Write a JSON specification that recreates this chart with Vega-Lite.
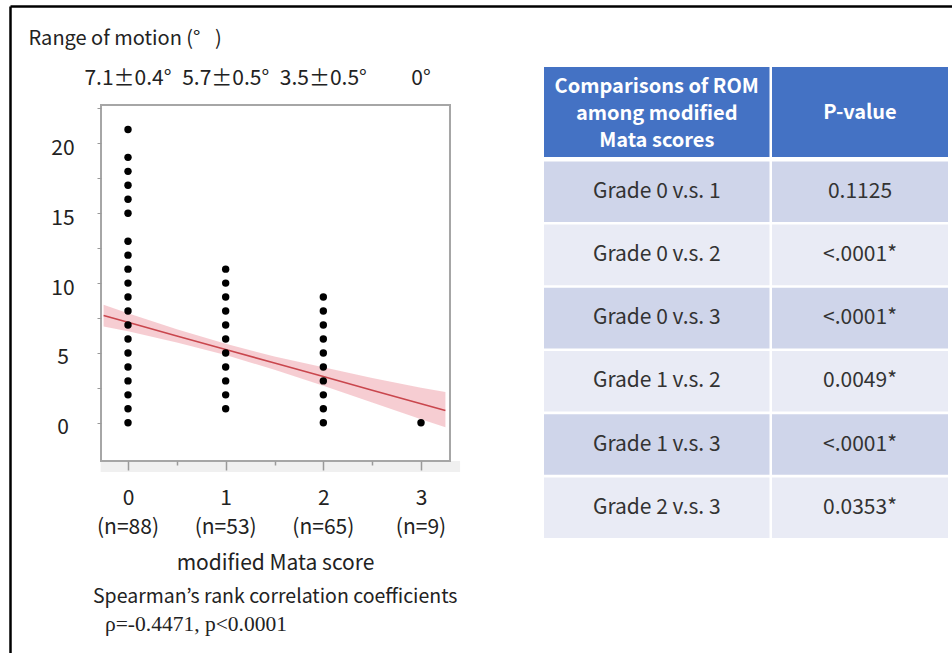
{
  "$schema": "https://vega.github.io/schema/vega-lite/v6.json",
  "width": 942,
  "height": 647,
  "autosize": "none",
  "padding": {"left": 10, "top": 6, "right": 0, "bottom": 0},
  "background": "white",
  "config": {
    "view": {"stroke": null},
    "font": "Noto Sans CJK JP",
    "axis": {"grid": false},
    "text": {"font": "Noto Sans CJK JP", "color": "#222"}
  },
  "datasets": {
    "points": [
      {"score": 0, "rom": 0}, {"score": 0, "rom": 1}, {"score": 0, "rom": 2}, {"score": 0, "rom": 3},
      {"score": 0, "rom": 4}, {"score": 0, "rom": 5}, {"score": 0, "rom": 6}, {"score": 0, "rom": 7},
      {"score": 0, "rom": 8}, {"score": 0, "rom": 9}, {"score": 0, "rom": 10}, {"score": 0, "rom": 11},
      {"score": 0, "rom": 12}, {"score": 0, "rom": 13}, {"score": 0, "rom": 15}, {"score": 0, "rom": 16},
      {"score": 0, "rom": 17}, {"score": 0, "rom": 18}, {"score": 0, "rom": 19}, {"score": 0, "rom": 21},
      {"score": 1, "rom": 1}, {"score": 1, "rom": 2}, {"score": 1, "rom": 3}, {"score": 1, "rom": 4},
      {"score": 1, "rom": 5}, {"score": 1, "rom": 6}, {"score": 1, "rom": 7}, {"score": 1, "rom": 8},
      {"score": 1, "rom": 9}, {"score": 1, "rom": 10}, {"score": 1, "rom": 11},
      {"score": 2, "rom": 0}, {"score": 2, "rom": 1}, {"score": 2, "rom": 2}, {"score": 2, "rom": 3},
      {"score": 2, "rom": 4}, {"score": 2, "rom": 5}, {"score": 2, "rom": 6}, {"score": 2, "rom": 7},
      {"score": 2, "rom": 8}, {"score": 2, "rom": 9},
      {"score": 3, "rom": 0}
    ],
    "band": [
      {"score": -0.25, "lo": 6.9, "hi": 8.45, "fit": 7.68},
      {"score": 0, "lo": 6.55, "hi": 7.85, "fit": 7.2},
      {"score": 0.5, "lo": 5.75, "hi": 6.7, "fit": 6.22},
      {"score": 1, "lo": 4.85, "hi": 5.65, "fit": 5.25},
      {"score": 1.5, "lo": 3.8, "hi": 4.75, "fit": 4.28},
      {"score": 2, "lo": 2.65, "hi": 3.97, "fit": 3.31},
      {"score": 2.5, "lo": 1.45, "hi": 3.2, "fit": 2.33},
      {"score": 3, "lo": 0.25, "hi": 2.5, "fit": 1.36},
      {"score": 3.25, "lo": -0.32, "hi": 2.2, "fit": 0.88}
    ],
    "groups": [
      {"score": 0, "n": "(n=88)", "mean": "7.1±0.4°"},
      {"score": 1, "n": "(n=53)", "mean": "5.7±0.5°"},
      {"score": 2, "n": "(n=65)", "mean": "3.5±0.5°"},
      {"score": 3, "n": "(n=9)", "mean": "0°"}
    ],
    "table": [
      {"row": 1, "comparison": "Grade 0 v.s. 1", "p": "0.1125"},
      {"row": 2, "comparison": "Grade 0 v.s. 2", "p": "<.0001*"},
      {"row": 3, "comparison": "Grade 0 v.s. 3", "p": "<.0001*"},
      {"row": 4, "comparison": "Grade 1 v.s. 2", "p": "0.0049*"},
      {"row": 5, "comparison": "Grade 1 v.s. 3", "p": "<.0001*"},
      {"row": 6, "comparison": "Grade 2 v.s. 3", "p": "0.0353*"}
    ]
  },
  "layer": [
    {
      "layer": [
        {
          "data": {"values": [{}]},
          "mark": {"type": "rect", "fill": "#f0f0f0", "stroke": null},
          "encoding": {
            "x": {"datum": -0.28, "type": "quantitative"},
            "x2": {"datum": 3.4},
            "y": {"datum": -2.734, "type": "quantitative"},
            "y2": {"datum": -3.52}
          }
        },
        {
          "data": {"values": [{}]},
          "mark": {"type": "rect", "fill": null, "stroke": "#a6a6a6", "strokeWidth": 2},
          "encoding": {
            "x": {"datum": -0.2764, "type": "quantitative"},
            "x2": {"datum": 3.2968},
            "y": {"datum": 22.75, "type": "quantitative"},
            "y2": {"datum": -2.734}
          }
        },
        {
          "data": {"name": "band"},
          "mark": {"type": "area", "color": "#f5c4ca", "opacity": 0.85},
          "encoding": {
            "x": {"field": "score", "type": "quantitative"},
            "y": {"field": "lo", "type": "quantitative"},
            "y2": {"field": "hi"}
          }
        },
        {
          "data": {"name": "band"},
          "mark": {"type": "line", "color": "#c9464d", "strokeWidth": 1.6},
          "encoding": {
            "x": {"field": "score", "type": "quantitative"},
            "y": {"field": "fit", "type": "quantitative"}
          }
        },
        {
          "data": {"name": "points"},
          "mark": {"type": "circle", "size": 55, "color": "black", "opacity": 1},
          "encoding": {
            "x": {
              "field": "score",
              "type": "quantitative",
              "scale": {"domain": [-1.20819, 8.43683], "nice": false, "zero": false},
              "axis": {
                "orient": "bottom",
                "offset": -192,
                "zindex": 2,
                "values": [0, 0.5, 1, 1.5, 2, 2.5, 3],
                "domain": false,
                "tickColor": "#9a9a9a",
                "tickWidth": 1.5,
                "tickSize": {"condition": {"test": "datum.value % 1 != 0", "value": 4}, "value": 9},
                "labelExpr": "datum.value % 1 == 0 ? format(datum.value, 'd') : ''",
                "labelFontSize": 21,
                "labelColor": "#222",
                "labelPadding": 17,
                "labelFlush": false,
                "labelOverlap": false,
                "title": "modified Mata score",
                "titleFontSize": 21,
                "titleFontWeight": "normal",
                "titleColor": "#222",
                "titleX": 265,
                "titleY": 102,
                "titleAlign": "center",
                "titleBaseline": "middle"
              }
            },
            "y": {
              "field": "rom",
              "type": "quantitative",
              "scale": {"domain": [-16.478, 29.835], "nice": false, "zero": false},
              "axis": {
                "orient": "left",
                "offset": -91,
                "zindex": 2,
                "values": [0, 2.5, 5, 7.5, 10, 12.5, 15, 17.5, 20, 22.5],
                "domain": false,
                "tickColor": "#9a9a9a",
                "tickSize": 4,
                "labelExpr": "datum.value % 5 == 0 ? datum.label : ''",
                "labelAlign": "center",
                "labelBaseline": "middle",
                "labelPadding": 34.5,
                "labelOffset": 5,
                "labelFontSize": 21,
                "labelColor": "#222",
                "labelOverlap": false,
                "title": "Range of motion (° \u2002)",
                "titleAngle": 0,
                "titleAlign": "left",
                "titleBaseline": "alphabetic",
                "titleX": -73,
                "titleY": 38,
                "titleFontSize": 20,
                "titleFontWeight": "normal",
                "titleColor": "#222"
              }
            }
          }
        },
        {
          "data": {"name": "groups"},
          "mark": {"type": "text", "fontSize": 21, "baseline": "middle", "align": "center"},
          "encoding": {
            "x": {"field": "score", "type": "quantitative"},
            "y": {"datum": 24.6, "type": "quantitative"},
            "text": {"field": "mean"}
          }
        },
        {
          "data": {"name": "groups"},
          "mark": {"type": "text", "fontSize": 21, "baseline": "middle", "align": "center"},
          "encoding": {
            "x": {"field": "score", "type": "quantitative"},
            "y": {"datum": -7.53, "type": "quantitative"},
            "text": {"field": "n"}
          }
        },
        {
          "data": {"values": [{}]},
          "mark": {"type": "text", "fontSize": 19.5, "baseline": "middle", "align": "left", "text": "Spearman’s rank correlation coefficients"},
          "encoding": {
            "x": {"datum": -0.3584, "type": "quantitative"},
            "y": {"datum": -12.448, "type": "quantitative"}
          }
        },
        {
          "data": {"values": [{}]},
          "mark": {"type": "text", "fontSize": 21.5, "font": "Liberation Serif", "baseline": "middle", "align": "left", "dx": 12, "text": "ρ=-0.4471, p<0.0001"},
          "encoding": {
            "x": {"datum": -0.3584, "type": "quantitative"},
            "y": {"datum": -14.474, "type": "quantitative"}
          }
        }
      ]
    },
    {
      "layer": [
        {
          "data": {"name": "table"},
          "mark": {"type": "rect", "yOffset": -30.3, "y2Offset": 30.3},
          "encoding": {
            "x": {
              "datum": 0.56688,
              "type": "quantitative",
              "scale": {"domain": [0, 1], "nice": false, "zero": false},
              "axis": {"orient": "top", "domain": true, "domainColor": "black", "domainWidth": 2.5, "ticks": false, "labels": false, "title": null}
            },
            "x2": {"datum": 0.80626},
            "y": {
              "field": "row",
              "type": "quantitative",
              "scale": {"domain": [-1.93829, 8.29905], "reverse": true, "nice": false, "zero": false},
              "axis": {"orient": "left", "domain": true, "domainColor": "black", "domainWidth": 2.5, "ticks": false, "labels": false, "title": null}
            },
            "y2": {"field": "row"},
            "color": {"condition": {"test": "datum.row % 2 == 1", "value": "#cfd5ea"}, "value": "#e9ebf5"}
          }
        },
        {
          "data": {"name": "table"},
          "mark": {"type": "rect", "yOffset": -30.3, "y2Offset": 30.3},
          "encoding": {
            "x": {"datum": 0.80892, "type": "quantitative"},
            "x2": {"datum": 0.99575},
            "y": {"field": "row", "type": "quantitative"},
            "y2": {"field": "row"},
            "color": {"condition": {"test": "datum.row % 2 == 1", "value": "#cfd5ea"}, "value": "#e9ebf5"}
          }
        },
        {
          "data": {"values": [{}]},
          "mark": {"type": "rect", "color": "#4472c4"},
          "encoding": {
            "x": {"datum": 0.56688, "type": "quantitative"},
            "x2": {"datum": 0.80626},
            "y": {"datum": -0.9731, "type": "quantitative"},
            "y2": {"datum": 0.45095}
          }
        },
        {
          "data": {"values": [{}]},
          "mark": {"type": "rect", "color": "#4472c4"},
          "encoding": {
            "x": {"datum": 0.80892, "type": "quantitative"},
            "x2": {"datum": 0.99575},
            "y": {"datum": -0.9731, "type": "quantitative"},
            "y2": {"datum": 0.45095}
          }
        },
        {
          "data": {"values": [{}]},
          "mark": {"type": "text", "color": "white", "fontWeight": "bold", "fontSize": 20, "lineHeight": 27, "lineBreak": "\n", "baseline": "middle", "align": "center", "text": "Comparisons of ROM\namong modified\nMata scores"},
          "encoding": {
            "x": {"datum": 0.68657, "type": "quantitative"},
            "y": {"datum": -0.6614, "type": "quantitative"}
          }
        },
        {
          "data": {"values": [{}]},
          "mark": {"type": "text", "color": "white", "fontWeight": "bold", "fontSize": 20, "baseline": "middle", "align": "center", "text": "P-value"},
          "encoding": {
            "x": {"datum": 0.90234, "type": "quantitative"},
            "y": {"datum": -0.245, "type": "quantitative"}
          }
        },
        {
          "data": {"name": "table"},
          "mark": {"type": "text", "fontSize": 21, "color": "#333", "baseline": "middle", "align": "center"},
          "encoding": {
            "x": {"datum": 0.68657, "type": "quantitative"},
            "y": {"field": "row", "type": "quantitative"},
            "text": {"field": "comparison"}
          }
        },
        {
          "data": {"name": "table"},
          "mark": {"type": "text", "fontSize": 21, "color": "#333", "baseline": "middle", "align": "center"},
          "encoding": {
            "x": {"datum": 0.90234, "type": "quantitative"},
            "y": {"field": "row", "type": "quantitative"},
            "text": {"field": "p"}
          }
        }
      ]
    }
  ],
  "resolve": {
    "scale": {"x": "independent", "y": "independent"},
    "axis": {"x": "independent", "y": "independent"}
  }
}
